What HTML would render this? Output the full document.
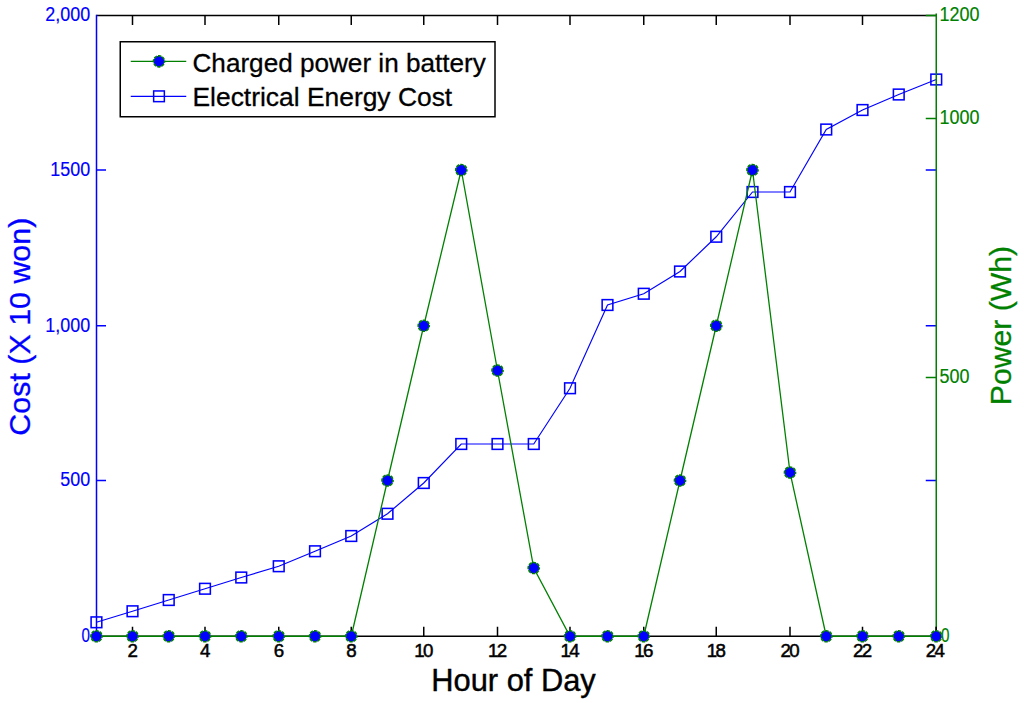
<!DOCTYPE html>
<html lang="en"><head><meta charset="utf-8"><title>Cost and charged power by hour of day</title>
<style>html,body{margin:0;padding:0;background:#fff}body{width:1024px;height:703px;overflow:hidden}svg{display:block}text{font-family:"Liberation Sans",Arial,sans-serif}</style></head><body>
<svg width="1024" height="703" viewBox="0 0 1024 703">
<rect width="1024" height="703" fill="#fff"/>
<g stroke="#000" stroke-width="1.5" fill="none">
<path d="M96.5 15.5H936.25M96.5 636.25H936.25"/>
<path d="M132.5 15.5v9.5M132.5 636.25v-9.5M205.0 15.5v9.5M205.0 636.25v-9.5M278.75 15.5v9.5M278.75 636.25v-9.5M351.25 15.5v9.5M351.25 636.25v-9.5M423.75 15.5v9.5M423.75 636.25v-9.5M497.5 15.5v9.5M497.5 636.25v-9.5M570.0 15.5v9.5M570.0 636.25v-9.5M643.75 15.5v9.5M643.75 636.25v-9.5M716.25 15.5v9.5M716.25 636.25v-9.5M790.0 15.5v9.5M790.0 636.25v-9.5M862.5 15.5v9.5M862.5 636.25v-9.5M936.25 636.25v-9.5"/></g>
<g stroke="#0000ff" fill="none"><polyline points="96.45,622.3 132.5,611.25 168.75,600 205.0,588.75 241.25,577.5 278.75,566.25 315.0,551.25 351.25,536 387.5,513.75 423.75,483 461.25,444 497.5,444 533.75,444 570.0,388.25 607.5,305 643.75,293.75 680.0,271.5 716.25,236.75 752.5,192 790.0,192 826.25,129.5 862.5,110 898.75,94.5 936.25,79.5" stroke-width="1.15"/>
<rect x="91.1" y="616.95" width="10.7" height="10.7" stroke-width="1.55"/>
<rect x="127.15" y="605.9" width="10.7" height="10.7" stroke-width="1.55"/>
<rect x="163.4" y="594.65" width="10.7" height="10.7" stroke-width="1.55"/>
<rect x="199.65" y="583.4" width="10.7" height="10.7" stroke-width="1.55"/>
<rect x="235.9" y="572.15" width="10.7" height="10.7" stroke-width="1.55"/>
<rect x="273.4" y="560.9" width="10.7" height="10.7" stroke-width="1.55"/>
<rect x="309.65" y="545.9" width="10.7" height="10.7" stroke-width="1.55"/>
<rect x="345.9" y="530.65" width="10.7" height="10.7" stroke-width="1.55"/>
<rect x="382.15" y="508.4" width="10.7" height="10.7" stroke-width="1.55"/>
<rect x="418.4" y="477.65" width="10.7" height="10.7" stroke-width="1.55"/>
<rect x="455.9" y="438.65" width="10.7" height="10.7" stroke-width="1.55"/>
<rect x="492.15" y="438.65" width="10.7" height="10.7" stroke-width="1.55"/>
<rect x="528.4" y="438.65" width="10.7" height="10.7" stroke-width="1.55"/>
<rect x="564.65" y="382.9" width="10.7" height="10.7" stroke-width="1.55"/>
<rect x="602.15" y="299.65" width="10.7" height="10.7" stroke-width="1.55"/>
<rect x="638.4" y="288.4" width="10.7" height="10.7" stroke-width="1.55"/>
<rect x="674.65" y="266.15" width="10.7" height="10.7" stroke-width="1.55"/>
<rect x="710.9" y="231.4" width="10.7" height="10.7" stroke-width="1.55"/>
<rect x="747.15" y="186.65" width="10.7" height="10.7" stroke-width="1.55"/>
<rect x="784.65" y="186.65" width="10.7" height="10.7" stroke-width="1.55"/>
<rect x="820.9" y="124.15" width="10.7" height="10.7" stroke-width="1.55"/>
<rect x="857.15" y="104.65" width="10.7" height="10.7" stroke-width="1.55"/>
<rect x="893.4" y="89.15" width="10.7" height="10.7" stroke-width="1.55"/>
<rect x="930.9" y="74.15" width="10.7" height="10.7" stroke-width="1.55"/>
</g>
<path d="M96.5 14.75V636.25M96.5 170.0h9.5M936.25 170.0h-10.5M96.5 325.75h9.5M936.25 325.75h-10.5M96.5 480.4h9.5M936.25 480.4h-10.5" stroke="#0000ff" stroke-width="1.5" fill="none"/>
<polyline points="96.45,636.25 132.5,636.25 168.75,636.25 205.0,636.25 241.25,636.25 278.75,636.25 315.0,636.25 351.25,636.25 387.5,480.5 423.75,325.75 461.25,170 497.5,370.5 533.75,568 570.0,636.25 607.5,636.25 643.75,636.25 680.0,480.5 716.25,325.75 752.5,170 790.0,472.5 826.25,636.25 862.5,636.25 898.75,636.25 936.25,636.25" stroke="#008000" stroke-width="1.3" fill="none"/>
<path d="M936.25 13.5V636.25M936.25 15.5h-10.5M936.25 118.6h-10.5M936.25 377.5h-10.5" stroke="#008000" stroke-width="1.5" fill="none"/>
<path d="M936.25 636.25v-9.5" stroke="#000" stroke-width="1.5" fill="none"/>
<g fill="#0000ff" stroke="#008000" stroke-width="1.7" stroke-dasharray="3.197 1.123" stroke-dashoffset="1.599">
<circle cx="96.45" cy="636.25" r="5.5"/>
<circle cx="132.5" cy="636.25" r="5.5"/>
<circle cx="168.75" cy="636.25" r="5.5"/>
<circle cx="205.0" cy="636.25" r="5.5"/>
<circle cx="241.25" cy="636.25" r="5.5"/>
<circle cx="278.75" cy="636.25" r="5.5"/>
<circle cx="315.0" cy="636.25" r="5.5"/>
<circle cx="351.25" cy="636.25" r="5.5"/>
<circle cx="387.5" cy="480.5" r="5.5"/>
<circle cx="423.75" cy="325.75" r="5.5"/>
<circle cx="461.25" cy="170" r="5.5"/>
<circle cx="497.5" cy="370.5" r="5.5"/>
<circle cx="533.75" cy="568" r="5.5"/>
<circle cx="570.0" cy="636.25" r="5.5"/>
<circle cx="607.5" cy="636.25" r="5.5"/>
<circle cx="643.75" cy="636.25" r="5.5"/>
<circle cx="680.0" cy="480.5" r="5.5"/>
<circle cx="716.25" cy="325.75" r="5.5"/>
<circle cx="752.5" cy="170" r="5.5"/>
<circle cx="790.0" cy="472.5" r="5.5"/>
<circle cx="826.25" cy="636.25" r="5.5"/>
<circle cx="862.5" cy="636.25" r="5.5"/>
<circle cx="898.75" cy="636.25" r="5.5"/>
<circle cx="936.25" cy="636.25" r="5.5"/>
</g>
<text transform="translate(90.2 21.25) scale(1 1.125)" font-size="17.95" text-anchor="end" fill="#0000ff" stroke="#0000ff" stroke-width="0.15">2,000</text>
<text transform="translate(90.2 175.75) scale(1 1.125)" font-size="17.95" text-anchor="end" fill="#0000ff" stroke="#0000ff" stroke-width="0.15">1500</text>
<text transform="translate(90.2 331.5) scale(1 1.125)" font-size="17.95" text-anchor="end" fill="#0000ff" stroke="#0000ff" stroke-width="0.15">1,000</text>
<text transform="translate(90.2 486.15) scale(1 1.125)" font-size="17.95" text-anchor="end" fill="#0000ff" stroke="#0000ff" stroke-width="0.15">500</text>
<text transform="translate(89.9 642.0) scale(0.85 1.125)" font-size="17.95" text-anchor="end" fill="#0000ff" stroke="#0000ff" stroke-width="0.15">0</text>
<text transform="translate(939.6 21.25) scale(1 1.125)" font-size="17.95" text-anchor="start" fill="#008000" stroke="#008000" stroke-width="0.15">1200</text>
<text transform="translate(939.6 124.35) scale(1 1.125)" font-size="17.95" text-anchor="start" fill="#008000" stroke="#008000" stroke-width="0.15">1000</text>
<text transform="translate(939.6 383.25) scale(1 1.125)" font-size="17.95" text-anchor="start" fill="#008000" stroke="#008000" stroke-width="0.15">500</text>
<text transform="translate(941.0 642.0) scale(0.85 1.125)" font-size="17.95" text-anchor="start" fill="#008000" stroke="#008000" stroke-width="0.15">0</text>
<text transform="translate(132.7 657.4) scale(1 1.03)" font-size="18.7" text-anchor="middle" fill="#000" stroke="#000" stroke-width="0.5">2</text>
<text transform="translate(205.2 657.4) scale(1 1.03)" font-size="18.7" text-anchor="middle" fill="#000" stroke="#000" stroke-width="0.5">4</text>
<text transform="translate(278.95 657.4) scale(1 1.03)" font-size="18.7" text-anchor="middle" fill="#000" stroke="#000" stroke-width="0.5">6</text>
<text transform="translate(351.45 657.4) scale(1 1.03)" font-size="18.7" text-anchor="middle" fill="#000" stroke="#000" stroke-width="0.5">8</text>
<text transform="translate(422.95 657.4) scale(1 1.03)" font-size="18.7" text-anchor="middle" fill="#000" stroke="#000" stroke-width="0.5" letter-spacing="-1.8">10</text>
<text transform="translate(496.7 657.4) scale(1 1.03)" font-size="18.7" text-anchor="middle" fill="#000" stroke="#000" stroke-width="0.5" letter-spacing="-1.8">12</text>
<text transform="translate(569.2 657.4) scale(1 1.03)" font-size="18.7" text-anchor="middle" fill="#000" stroke="#000" stroke-width="0.5" letter-spacing="-1.8">14</text>
<text transform="translate(642.95 657.4) scale(1 1.03)" font-size="18.7" text-anchor="middle" fill="#000" stroke="#000" stroke-width="0.5" letter-spacing="-1.8">16</text>
<text transform="translate(715.45 657.4) scale(1 1.03)" font-size="18.7" text-anchor="middle" fill="#000" stroke="#000" stroke-width="0.5" letter-spacing="-1.8">18</text>
<text transform="translate(789.2 657.4) scale(1 1.03)" font-size="18.7" text-anchor="middle" fill="#000" stroke="#000" stroke-width="0.5" letter-spacing="-1.8">20</text>
<text transform="translate(861.7 657.4) scale(1 1.03)" font-size="18.7" text-anchor="middle" fill="#000" stroke="#000" stroke-width="0.5" letter-spacing="-1.8">22</text>
<text transform="translate(934.45 657.4) scale(1 1.03)" font-size="18.7" text-anchor="middle" fill="#000" stroke="#000" stroke-width="0.5" letter-spacing="-1.8">24</text>
<text transform="translate(513.5 691.3) scale(1 1.01)" font-size="30.85" text-anchor="middle" fill="#000" stroke="#000" stroke-width="0.4">Hour of Day</text>
<text transform="translate(30.0 326.7) rotate(-90)" font-size="30.4" text-anchor="middle" fill="#0000ff" stroke="#0000ff" stroke-width="0.3">Cost (X 10 won)</text>
<text transform="translate(1010.6 325.5) rotate(-90) scale(1 0.99)" font-size="30.2" text-anchor="middle" fill="#008000" stroke="#008000" stroke-width="0.3">Power (Wh)</text>
<rect x="120.25" y="41.75" width="374.75" height="75" fill="#fff" stroke="#000" stroke-width="1.5"/>
<path d="M130.75 61.3H186.25" stroke="#008000" stroke-width="1.3"/>
<circle cx="159" cy="61.3" r="5.5" fill="#0000ff" stroke="#008000" stroke-width="1.7" stroke-dasharray="3.197 1.123" stroke-dashoffset="1.599"/>
<path d="M130.75 96.3H186.25" stroke="#0000ff" stroke-width="1.15"/>
<rect x="153.65" y="90.95" width="10.7" height="10.7" fill="none" stroke="#0000ff" stroke-width="1.5"/>
<text transform="translate(192.5 72.0) scale(0.9935 1)" font-size="26.3" text-anchor="start" fill="#000" stroke="#000" stroke-width="0.3">Charged power in battery</text>
<text transform="translate(192.5 106.2) scale(1.004 1)" font-size="26.3" text-anchor="start" fill="#000" stroke="#000" stroke-width="0.3">Electrical Energy Cost</text>
</svg></body></html>
